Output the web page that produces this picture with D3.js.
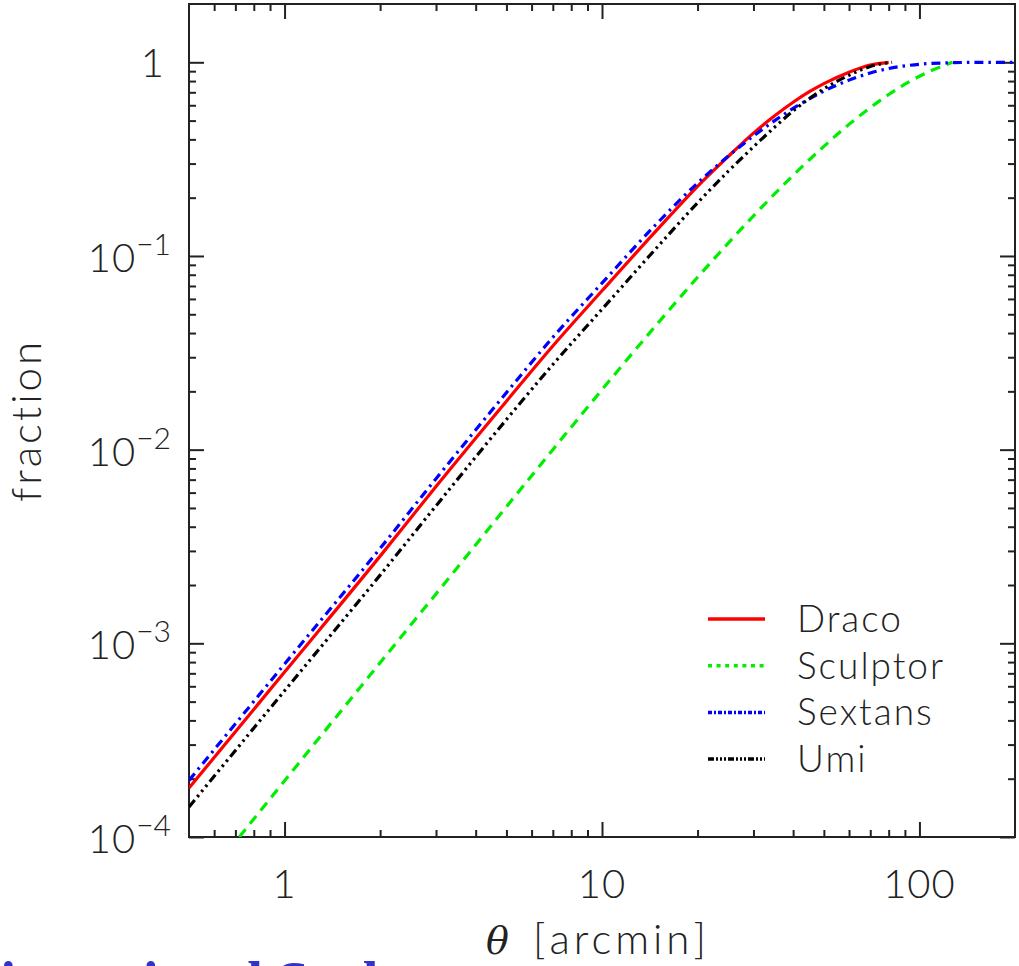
<!DOCTYPE html>
<html>
<head>
<meta charset="utf-8">
<script src="https://cdn.jsdelivr.net/npm/d3@7"></script>
<style>
  html, body { margin: 0; padding: 0; background: #fff; }
  svg { display: block; }
  .lbl { font-family: Lato, Roboto, "DejaVu Sans", sans-serif; font-weight: 300; fill: #222; }
</style>
</head>
<body>
<svg id="chart" width="1019" height="966"></svg>
<script>
// Cumulative fraction within angular radius theta (arcmin)
const dracoTheta = [0.5, 1, 2, 3, 5, 7, 10, 15, 20, 25, 30, 35, 40, 45, 50, 60, 70, 80];
const dracoFrac  = [1.79e-4, 7.11e-4, 2.82e-3, 6.46e-3, 1.78e-2, 3.43e-2, 6.61e-2, 0.138, 0.229, 0.327, 0.431, 0.530, 0.622, 0.705, 0.776, 0.889, 0.968, 1.0];

const sculptorTheta = [0.72, 1, 2, 3, 5, 7, 10, 15, 20, 30, 40, 50, 60, 70, 80, 90, 100, 110, 120, 127];
const sculptorFrac  = [1.0e-4, 1.95e-4, 7.94e-4, 1.80e-3, 5.07e-3, 1.0e-2, 2.04e-2, 4.50e-2, 7.76e-2, 0.161, 0.261, 0.368, 0.478, 0.583, 0.682, 0.771, 0.847, 0.912, 0.966, 1.0];

const sextansTheta = [0.5, 1, 2, 3, 5, 7, 10, 15, 20, 25, 30, 35, 40, 45, 50, 60, 70, 80, 100, 120, 150, 200];
const sextansFrac  = [1.96e-4, 7.82e-4, 3.09e-3, 7.08e-3, 1.97e-2, 3.80e-2, 7.24e-2, 0.149, 0.238, 0.328, 0.416, 0.500, 0.578, 0.647, 0.710, 0.809, 0.881, 0.929, 0.977, 0.993, 0.999, 1.0];

const umiTheta = [0.5, 1, 2, 3, 5, 7, 10, 15, 20, 25, 30, 35, 40, 45, 50, 60, 70, 80, 82];
const umiFrac  = [1.43e-4, 5.69e-4, 2.25e-3, 5.13e-3, 1.43e-2, 2.75e-2, 5.31e-2, 0.112, 0.188, 0.274, 0.366, 0.463, 0.561, 0.650, 0.730, 0.857, 0.951, 0.995, 1.0];

const seriesNames = ["Draco", "Sculptor", "Sextans", "Umi"];

const xMajorTicks = [1, 10, 100];
const xMajorLabels = ["1", "10", "100"];
const yMajorTicks = [1e-4, 1e-3, 1e-2, 1e-1, 1];
const yMajorExp = [-4, -3, -2, -1, 0];

const svg = d3.select("#chart");
const plot = { left: 189, right: 1015, top: 4, bottom: 837 };

const x = d3.scaleLog().domain([0.5, 200]).range([plot.left, plot.right]);
const y = d3.scaleLog().domain([1e-4, 2]).range([plot.bottom, plot.top]);

const series = [
  { name: seriesNames[0], t: dracoTheta, f: dracoFrac, color: "#ff0000", dash: null, legendDash: null },
  { name: seriesNames[1], t: sculptorTheta, f: sculptorFrac, color: "#00ee00", dash: "10,7", legendDash: "4,4.6" },
  { name: seriesNames[2], t: sextansTheta, f: sextansFrac, color: "#0000ff", dash: "9,5,2.5,5", legendDash: "4,2,2,2" },
  { name: seriesNames[3], t: umiTheta, f: umiFrac, color: "#000000", dash: "9,4,2.5,4,2.5,4,2.5,4", legendDash: "6,2,2,2,2,2,2,2" }
];

// minor ticks for log axes
function minorTicks(lo, hi) {
  const out = [];
  for (let e = Math.floor(Math.log10(lo)); e <= Math.ceil(Math.log10(hi)); e++) {
    for (let m = 2; m <= 9; m++) {
      const v = m * Math.pow(10, e);
      if (v > lo * 1.0001 && v < hi * 0.9999) out.push(v);
    }
  }
  return out;
}
const xMinor = minorTicks(0.5, 200);
const yMinor = minorTicks(1e-4, 2);

const axisColor = "#222";
function styleAxis(g) {
  g.select(".domain").remove();
  g.selectAll(".tick line").attr("stroke", axisColor).attr("stroke-width", 2);
  g.selectAll(".tick text").remove();
}

// ticks on all four sides, pointing inward
svg.append("g").attr("transform", `translate(0,${plot.bottom})`)
  .call(d3.axisBottom(x).tickValues(xMajorTicks).tickSize(-15)).call(styleAxis);
svg.append("g").attr("transform", `translate(0,${plot.bottom})`)
  .call(d3.axisBottom(x).tickValues(xMinor).tickSize(-7)).call(styleAxis);
svg.append("g").attr("transform", `translate(0,${plot.top})`)
  .call(d3.axisTop(x).tickValues(xMajorTicks).tickSize(-15)).call(styleAxis);
svg.append("g").attr("transform", `translate(0,${plot.top})`)
  .call(d3.axisTop(x).tickValues(xMinor).tickSize(-7)).call(styleAxis);
svg.append("g").attr("transform", `translate(${plot.left},0)`)
  .call(d3.axisLeft(y).tickValues(yMajorTicks).tickSize(-15)).call(styleAxis);
svg.append("g").attr("transform", `translate(${plot.left},0)`)
  .call(d3.axisLeft(y).tickValues(yMinor).tickSize(-7)).call(styleAxis);
svg.append("g").attr("transform", `translate(${plot.right},0)`)
  .call(d3.axisRight(y).tickValues(yMajorTicks).tickSize(-15)).call(styleAxis);
svg.append("g").attr("transform", `translate(${plot.right},0)`)
  .call(d3.axisRight(y).tickValues(yMinor).tickSize(-7)).call(styleAxis);

// frame
svg.append("rect")
  .attr("x", plot.left).attr("y", plot.top)
  .attr("width", plot.right - plot.left).attr("height", plot.bottom - plot.top)
  .attr("fill", "none").attr("stroke", axisColor).attr("stroke-width", 2);

// x tick labels
svg.append("g").selectAll("text").data(xMajorTicks).join("text")
  .attr("class", "lbl")
  .attr("x", d => x(d)).attr("y", 898)
  .attr("text-anchor", "middle").attr("font-size", 40)
  .attr("letter-spacing", 1)
  .text((d, i) => xMajorLabels[i]);

// y tick labels (powers of ten)
const yl = svg.append("g").selectAll("g").data(yMajorTicks).join("g")
  .attr("transform", d => `translate(0,${y(d)})`);
yl.each(function (d, i) {
  const g = d3.select(this);
  const e = yMajorExp[i];
  if (e === 0) {
    g.append("text").attr("class", "lbl").attr("x", 164).attr("y", 15)
      .attr("text-anchor", "end").attr("font-size", 40).text("1");
  } else {
    const t = g.append("text").attr("class", "lbl").attr("x", 171).attr("y", 16)
      .attr("text-anchor", "end").attr("font-size", 40);
    t.append("tspan").attr("letter-spacing", 1).text("10");
    t.append("tspan").attr("font-size", 30).attr("dy", -17).text("\u2212" + Math.abs(e));
  }
});

// axis titles
const xt = svg.append("text").attr("class", "lbl").attr("x", 598).attr("y", 954)
  .attr("text-anchor", "middle").attr("font-size", 42);
xt.append("tspan").attr("font-family", "'DejaVu Serif', serif").attr("font-style", "italic")
  .attr("font-weight", 400).attr("font-size", 38).text("\u03b8");
xt.append("tspan").attr("dx", 24).attr("letter-spacing", 4).text("[arcmin]");

svg.append("text").attr("class", "lbl")
  .attr("transform", `translate(41,${(plot.top + plot.bottom) / 2}) rotate(-90)`)
  .attr("text-anchor", "middle").attr("font-size", 42).attr("letter-spacing", 3)
  .text("fraction");

// curves
svg.append("defs").append("clipPath").attr("id", "plotclip")
  .append("rect").attr("x", plot.left).attr("y", plot.top)
  .attr("width", plot.right - plot.left).attr("height", plot.bottom - plot.top);

const line = d3.line().x(d => x(d[0])).y(d => y(d[1])).curve(d3.curveMonotoneX);
const curves = svg.append("g").attr("clip-path", "url(#plotclip)");
series.forEach(s => {
  curves.append("path")
    .datum(s.t.map((t, i) => [t, s.f[i]]))
    .attr("d", line)
    .attr("fill", "none")
    .attr("stroke", s.color)
    .attr("stroke-width", 3.2)
    .attr("stroke-dasharray", s.dash);
});

// legend
const lg = svg.append("g").selectAll("g").data(series).join("g")
  .attr("transform", (d, i) => `translate(708,${619 + i * 46.7})`);
lg.append("line").attr("x1", 0).attr("x2", 57).attr("y1", 0).attr("y2", 0)
  .attr("stroke", d => d.color).attr("stroke-width", 3.5)
  .attr("stroke-dasharray", d => d.legendDash);
lg.append("text").attr("class", "lbl").attr("x", 89).attr("y", 13)
  .attr("font-size", 37).attr("font-weight", 400).attr("letter-spacing", 2)
  .text(d => d.name);

// fragment of a heading below the figure
svg.append("text")
  .attr("x", -41).attr("y", 1001)
  .attr("font-family", "'Liberation Serif', serif").attr("font-weight", 700)
  .attr("font-size", 57).attr("fill", "#3333cc")
  .text("Dimensional Scale");
</script>
</body>
</html>
